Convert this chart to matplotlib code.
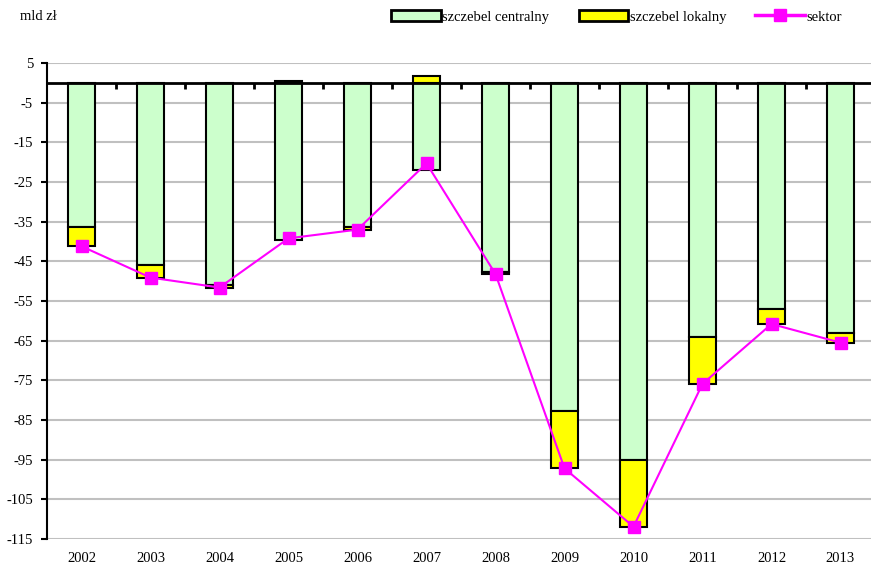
import numpy as np
import matplotlib.pyplot as plt
from matplotlib.patches import Patch
from matplotlib.lines import Line2D

plt.rcParams['font.family'] = ['Liberation Serif', 'DejaVu Serif']
plt.rcParams['axes.unicode_minus'] = False

years = ['2002', '2003', '2004', '2005', '2006', '2007',
         '2008', '2009', '2010', '2011', '2012', '2013']
centralny = [-36.3, -45.8, -51.0, -39.6, -36.4, -22.0,
             -47.8, -82.7, -95.1, -64.2, -57.0, -63.1]
lokalny = [-4.9, -3.3, -0.6, 0.4, -0.6, 1.8,
           -0.4, -14.5, -16.8, -11.7, -3.8, -2.4]
sektor = [-41.2, -49.1, -51.6, -39.2, -37.0, -20.3,
          -48.2, -97.2, -111.9, -75.9, -60.8, -65.5]
yticks = [5, -5, -15, -25, -35, -45, -55, -65, -75, -85, -95, -105, -115]

fs = 10.5
fig = plt.figure(figsize=(8.71, 5.69), dpi=100)
ax = fig.add_axes([47 / 871, 1 - 539 / 569, 828 / 871, 476 / 569])

x = np.arange(len(years))
cen = np.array(centralny)
lok = np.array(lokalny)
# yellow sits below green when negative, above zero when positive
lok_bottom = np.where(lok < 0, cen, 0)

ax.bar(x, cen, width=0.4, color='#ccffcc', edgecolor='black', linewidth=1.5, zorder=3)
ax.bar(x, lok, bottom=lok_bottom, width=0.4, color='#ffff00', edgecolor='black',
       linewidth=1.5, zorder=3)
ax.plot(x, sektor, color='#ff00ff', lw=1.5, marker='s', markersize=9,
        markeredgecolor='#ff00ff', zorder=4)

ax.set_xlim(-0.5, len(years) - 0.5)
ax.set_ylim(-115, 5)
ax.set_yticks(yticks)
ax.yaxis.grid(True, color='#c0c0c0', lw=1.5)
ax.set_axisbelow(True)
ax.tick_params(axis='y', direction='out', length=4, width=1.5, labelsize=fs, pad=6)

# category axis crosses at zero, ticks between categories
ax.spines['bottom'].set_position(('data', 0))
ax.spines['bottom'].set_linewidth(2)
ax.spines['bottom'].set_zorder(5)
ax.spines['left'].set_linewidth(1.5)
ax.spines['top'].set_visible(False)
ax.spines['right'].set_visible(False)
ax.set_xticks(x + 0.5)
ax.set_xticklabels([])
ax.tick_params(axis='x', direction='out', length=4, width=2)

for xi, yr in zip(x, years):
    ax.text(xi, -0.04, yr, transform=ax.get_xaxis_transform(), ha='center',
            va='center', fontsize=fs)

fig.text(20 / 871, 1 - 17 / 569, 'mld zł', fontsize=fs, va='center', ha='left')

handles = [Patch(facecolor='#ccffcc', edgecolor='black', linewidth=2),
           Patch(facecolor='#ffff00', edgecolor='black', linewidth=2),
           Line2D([], [], color='#ff00ff', lw=2.5, marker='s', markersize=9)]
fig.legend(handles, ['szczebel centralny', 'szczebel lokalny', 'sektor'],
           loc='center', bbox_to_anchor=(0.708, 1 - 17 / 569), ncol=3,
           frameon=False, fontsize=fs, handlelength=3.4, handleheight=0.8,
           handletextpad=0.1, columnspacing=2.0)

fig.savefig('out.png', dpi=100)
